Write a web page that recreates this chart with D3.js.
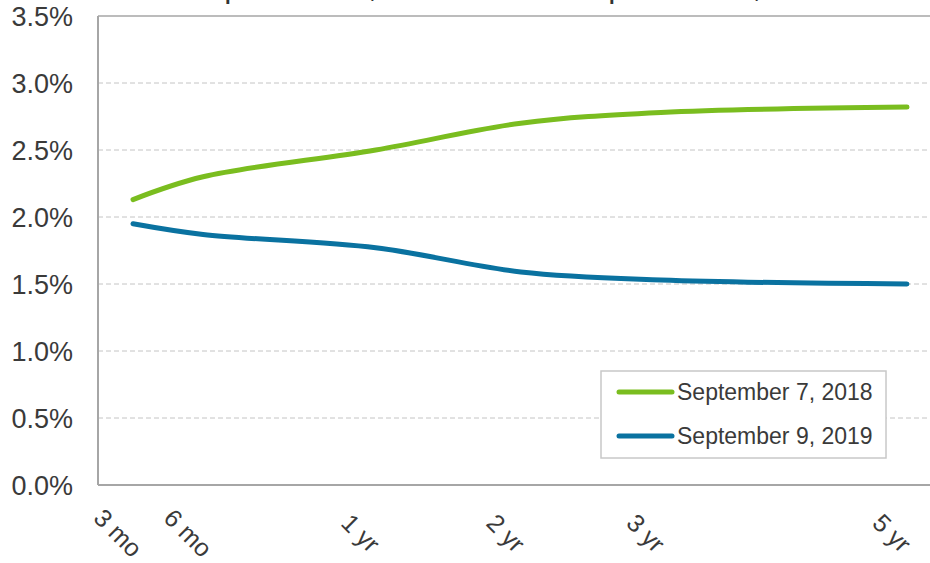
<!DOCTYPE html>
<html>
<head>
<meta charset="utf-8">
<script src="https://cdn.jsdelivr.net/npm/d3@7"></script>
<style>
body{margin:0;background:#fff;}
svg{display:block;font-family:"Liberation Sans",Arial,sans-serif;}
</style>
</head>
<body>
<div id="chart"></div>
<script>
// maturities (years) and their labels
var maturities=[0.25,0.5,1,2,3,5];
var tickLabels=["3 mo","6 mo","1 yr","2 yr","3 yr","5 yr"];
// yields, percent
var sep2018=[2.13,2.30,2.50,2.70,2.78,2.82];
var sep2019=[1.95,1.87,1.77,1.59,1.53,1.50];
var seriesNames=["September 7, 2018","September 9, 2019"];
var yTicks=[0,0.5,1,1.5,2,2.5,3,3.5];

var W=930,H=563;
var pLeft=98,pRight=932,pTop=16,pBottom=485;

var svg=d3.select("#chart")
	.append("svg")
	.attr("width",W)
	.attr("height",H);

// uneven spacing of the maturity axis (fractions of plot width)
var xStops=[0.042,0.126,0.333,0.507,0.675,0.970];
var x=d3.scaleLinear()
	.domain(maturities)
	.range(xStops.map(function(f){return pLeft+f*(pRight-pLeft);}));
var y=d3.scaleLinear()
	.domain([0,3.5])
	.range([pBottom,pTop]);

// cut-off title, only descenders show
svg.append("text")
	.attr("x",185)
	.attr("y",-3)
	.attr("font-size",32)
	.attr("fill","#333")
	.text(seriesNames[0]+" versus "+seriesNames[1]);

// gridlines
svg.selectAll(".grid")
	.data(yTicks.filter(function(d){return d>0 && d<3.5;}))
	.enter()
	.append("line")
	.attr("x1",pLeft)
	.attr("x2",W)
	.attr("y1",function(d){return y(d);})
	.attr("y2",function(d){return y(d);})
	.attr("stroke","#c4c4c4")
	.attr("stroke-width",1)
	.attr("stroke-dasharray","5,3");

// frame
svg.append("line").attr("x1",pLeft).attr("x2",W).attr("y1",y(3.5)).attr("y2",y(3.5))
	.attr("stroke","#a6a6a6").attr("stroke-width",1.5);
svg.append("line").attr("x1",pLeft).attr("x2",W).attr("y1",y(0)).attr("y2",y(0))
	.attr("stroke","#a6a6a6").attr("stroke-width",2);
svg.append("line").attr("x1",pLeft).attr("x2",pLeft).attr("y1",y(3.5)).attr("y2",y(0))
	.attr("stroke","#a6a6a6").attr("stroke-width",2);

// y labels
svg.selectAll(".ylab")
	.data(yTicks)
	.enter()
	.append("text")
	.attr("x",73)
	.attr("y",function(d){return y(d);})
	.attr("dy","0.36em")
	.attr("text-anchor","end")
	.attr("font-size",27)
	.attr("fill","#3a3a3a")
	.text(function(d){return d.toFixed(1)+"%";});

// x labels, rotated
svg.selectAll(".xlab")
	.data(maturities)
	.enter()
	.append("text")
	.attr("transform",function(d){return "translate("+(x(d)-15)+",533) rotate(45)";})
	.attr("text-anchor","middle")
	.attr("dy","0.35em")
	.attr("font-size",25)
	.attr("fill","#3a3a3a")
	.text(function(d,i){return tickLabels[i];});

var line=d3.line()
	.x(function(d,i){return x(maturities[i]);})
	.y(function(d){return y(d);})
	.curve(d3.curveCatmullRom.alpha(0.5));

var colors=["#7abd1f","#0a72a0"];
[sep2018,sep2019].forEach(function(s,i){
	svg.append("path")
		.datum(s)
		.attr("d",line)
		.attr("fill","none")
		.attr("stroke",colors[i])
		.attr("stroke-width",5)
		.attr("stroke-linecap","round")
		.attr("stroke-linejoin","round");
});

// legend
var lg=svg.append("g").attr("transform","translate(601,371)");
lg.append("rect")
	.attr("width",285)
	.attr("height",87)
	.attr("fill","#fff")
	.attr("stroke","#c8c8c8")
	.attr("stroke-width",1.5);
seriesNames.forEach(function(n,i){
	var yy=21+i*44;
	lg.append("line")
		.attr("x1",18).attr("x2",71)
		.attr("y1",yy).attr("y2",yy)
		.attr("stroke",colors[i])
		.attr("stroke-width",5)
		.attr("stroke-linecap","round");
	lg.append("text")
		.attr("x",76)
		.attr("y",yy)
		.attr("dy","0.36em")
		.attr("font-size",23)
		.attr("fill","#3a3a3a")
		.text(n);
});
</script>
</body>
</html>
